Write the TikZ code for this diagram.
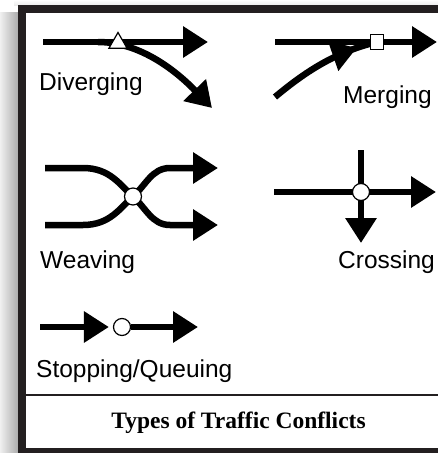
\documentclass[tikz,border=0pt]{standalone}
\usepackage{fontspec}
\setmainfont{Liberation Serif}
\setsansfont{Liberation Sans}
\usetikzlibrary{positioning}
\usetikzlibrary{arrows.meta}
\usetikzlibrary{shapes.geometric}
\usetikzlibrary{decorations.markings}
\definecolor{frameblack}{RGB}{35, 31, 32}

\begin{document}
\begin{tikzpicture}[
    x=1pt, y=-1pt,
    >={Triangle[length=25pt,width=30pt]},
    % road styles
    road/.style = {line width=6.5pt, draw=black},
    roadarr/.style = {road, ->},
    midarr/.style = {postaction={decorate},
      decoration={markings, mark=at position 0.82 with {\arrow{>}}}},
    % marker styles
    tri/.style = {regular polygon, regular polygon sides=3,
      minimum size=21pt, inner sep=0pt,
      draw=black, fill=white, line width=1.2pt},
    sq/.style = {rectangle, minimum width=13pt, minimum height=15pt,
      inner sep=0pt, draw=black, fill=white, line width=1.2pt},
    dot/.style = {circle, minimum size=17pt, inner sep=0pt,
      draw=black, fill=white, line width=1.2pt},
    % text styles
    lbl/.style = {font=\sffamily\fontsize{24.5}{29}\selectfont,
      inner sep=0pt, anchor=base west},
    title/.style = {font=\bfseries\fontsize{23.5}{27}\selectfont,
      inner sep=0pt, anchor=base}
  ]
  \useasboundingbox (0,0) rectangle (438,453);

  % --- Frame and shadow
  \shade[left color=gray!12, right color=gray!65] (0,12) rectangle (18,453);
  \shade[top color=white, bottom color=gray!15] (14,0) rectangle (438,5);
  \fill[frameblack] (18,5) rectangle (460,470);
  \fill[white] (26,13) rectangle (460,448);
  \draw[line width=2pt, frameblack] (26,395) -- (438,395);

  % --- Diverging
  \coordinate (div-in) at (43,42);
  \coordinate (div-split) at (98,42);
  \coordinate (div-out) at (208,42);
  \coordinate (div-turn) at (212,108);
  \draw[roadarr] (div-in) -- (div-out);
  \draw[roadarr] (div-split) .. controls (145,42) and (183,78) .. (div-turn);
  \node[tri] (div-mark) at (118,43) {};
  \node[lbl] (div-lbl) at (39,90) {Diverging};

  % --- Merging
  \coordinate (mg-in) at (275,42);
  \coordinate (mg-out) at (437,42);
  \coordinate (mg-ramp) at (275,97);
  \node[sq] (mg-mark) at (377,42) {};
  \draw[roadarr] (mg-in) -- (mg-out);
  \draw[road, midarr] (mg-ramp) .. controls (305,72) and (335,52) .. (mg-mark.center);
  \node[sq] at (mg-mark) {};
  \node[lbl] (mg-lbl) at (343,103) {Merging};

  % --- Weaving
  \coordinate (wv-a) at (45,168);
  \coordinate (wv-b) at (45,225);
  \coordinate (wv-c) at (218,168);
  \coordinate (wv-d) at (218,225);
  \coordinate (wv-x) at (133,196.5);
  \draw[roadarr] (wv-a) -- (83,168) .. controls (110,168) and (120,185) .. (wv-x)
    .. controls (146,208) and (152,225) .. (170,225) -- (wv-d);
  \draw[roadarr] (wv-b) -- (83,225) .. controls (110,225) and (120,208) .. (wv-x)
    .. controls (146,185) and (152,168) .. (170,168) -- (wv-c);
  \node[dot] (wv-mark) at (wv-x) {};
  \node[lbl] (wv-lbl) at (40,268) {Weaving};

  % --- Crossing
  \coordinate (cr-w) at (274,192);
  \coordinate (cr-e) at (436,192);
  \coordinate (cr-n) at (361,150);
  \coordinate (cr-s) at (361,243);
  \draw[roadarr] (cr-w) -- (cr-e);
  \draw[roadarr] (cr-n) -- (cr-s);
  \node[dot] (cr-mark) at (361,192) {};
  \node[lbl] (cr-lbl) at (338,268) {Crossing};

  % --- Stopping/Queuing
  \coordinate (st-in) at (40,327);
  \coordinate (st-out) at (198,327);
  \node[dot] (st-mark) at (122,327) {};
  \draw[roadarr, shorten >=4pt] (st-in) -- (st-mark);
  \draw[roadarr] (st-mark) -- (st-out);
  \node[lbl] (st-lbl) at (36,377) {Stopping/Queuing};

  % --- Caption
  \node[title] (caption) at (238.5,428) {Types of Traffic Conflicts};

\end{tikzpicture}
\end{document}
